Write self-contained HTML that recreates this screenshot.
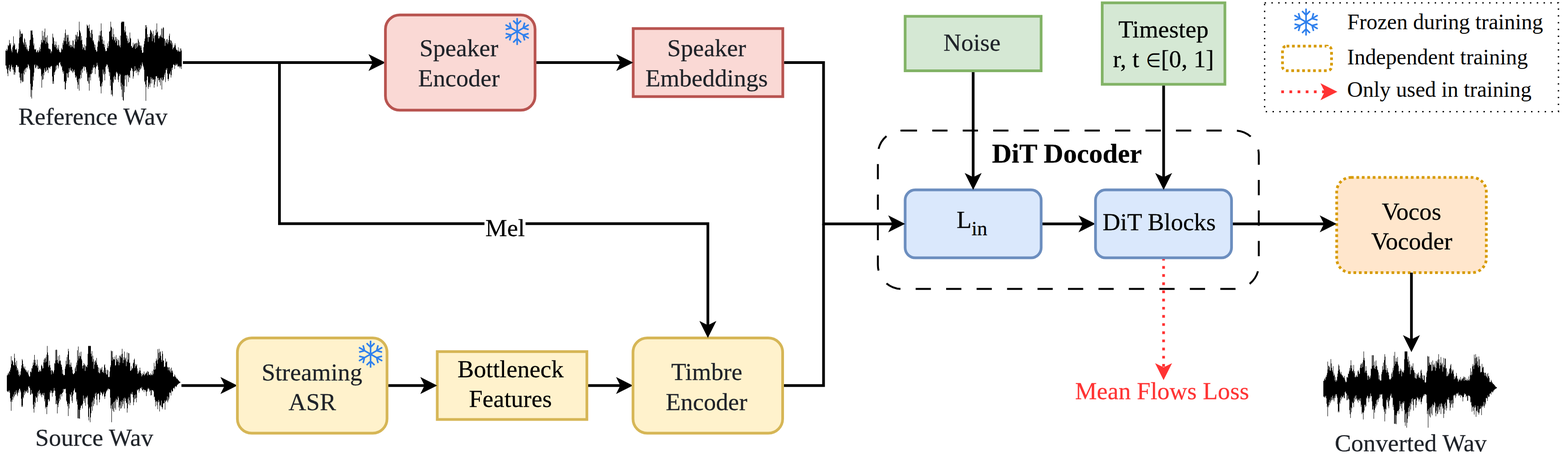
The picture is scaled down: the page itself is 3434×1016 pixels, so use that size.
<!DOCTYPE html>
<html lang="en">
<head>
<meta charset="utf-8">
<title>Voice conversion architecture</title>
<style>
html, body { margin: 0; padding: 0; background: #ffffff; }
body { width: 3434px; height: 1016px; overflow: hidden; }
svg { display: block; }
svg text { font-family: "Liberation Serif", "Times New Roman", Times, serif; white-space: pre; }
</style>
</head>
<body>
<svg width="3434" height="1016" viewBox="0 0 3434 1016">
<rect x="0" y="0" width="3434" height="1016" fill="#ffffff"/>
<path d="M12.0,110.5V110.5H13.0V111.2H14.0V107.1H15.0V111.6H16.0V108.7H17.0V98.5H18.0V101.3H19.0V99.3H20.0V87.4H21.0V95.1H22.0V98.3H23.0V94.4H24.0V107.1H25.0V110.7H26.0V114.6H27.0V103.6H28.0V99.8H29.0V79.4H30.0V99.7H31.0V94.7H32.0V97.4H33.0V108.3H34.0V108.3H35.0V109.1H36.0V106.1H37.0V114.9H38.0V117.1H39.0V112.8H40.0V107.6H41.0V94.9H42.0V82.8H43.0V64.4H44.0V68.4H45.0V80.8H46.0V73.7H47.0V74.1H48.0V72.5H49.0V74.8H50.0V91.6H51.0V94.3H52.0V97.7H53.0V83.6H54.0V86.2H55.0V103.1H56.0V92.4H57.0V97.7H58.0V107.9H59.0V103.7H60.0V108.3H61.0V111.8H62.0V111.7H63.0V107.3H64.0V100.1H65.0V88.1H66.0V86.7H67.0V66.9H68.0V66.5H69.0V68.2H70.0V66.2H71.0V76.0H72.0V82.4H73.0V99.4H74.0V95.3H75.0V107.2H76.0V108.8H77.0V108.3H78.0V106.7H79.0V114.4H80.0V114.3H81.0V111.1H82.0V109.5H83.0V115.0H84.0V113.5H85.0V109.8H86.0V103.6H87.0V112.4H88.0V107.3H89.0V97.3H90.0V87.5H91.0V93.1H92.0V67.4H93.0V93.3H94.0V78.5H95.0V87.8H96.0V70.1H97.0V89.1H98.0V62.4H99.0V82.2H100.0V95.7H101.0V81.4H102.0V91.8H103.0V77.4H104.0V94.3H105.0V95.4H106.0V106.8H107.0V105.7H108.0V108.2H109.0V106.9H110.0V108.4H111.0V116.5H112.0V111.7H113.0V113.1H114.0V95.8H115.0V73.7H116.0V81.2H117.0V83.4H118.0V89.9H119.0V98.4H120.0V102.7H121.0V97.6H122.0V91.1H123.0V106.2H124.0V99.1H125.0V109.3H126.0V104.4H127.0V107.6H128.0V98.6H129.0V110.0H130.0V113.9H131.0V113.4H132.0V115.4H133.0V113.7H134.0V104.8H135.0V107.6H136.0V108.7H137.0V93.8H138.0V98.1H139.0V88.7H140.0V82.4H141.0V90.4H142.0V72.4H143.0V64.4H144.0V90.1H145.0V76.8H146.0V96.5H147.0V76.5H148.0V82.6H149.0V76.2H150.0V91.7H151.0V100.7H152.0V89.3H153.0V98.3H154.0V103.5H155.0V98.7H156.0V98.8H157.0V103.3H158.0V101.7H159.0V88.6H160.0V89.2H161.0V103.9H162.0V106.2H163.0V97.4H164.0V86.3H165.0V76.2H166.0V91.2H167.0V76.2H168.0V79.4H169.0V69.9H170.0V86.7H171.0V80.3H172.0V79.3H173.0V47.5H174.0V66.1H175.0V69.1H176.0V72.5H177.0V88.8H178.0V78.7H179.0V87.2H180.0V97.1H181.0V107.9H182.0V103.2H183.0V104.8H184.0V97.4H185.0V109.1H186.0V110.2H187.0V99.9H188.0V101.4H189.0V82.4H190.0V53.7H191.0V56.7H192.0V55.7H193.0V62.5H194.0V60.9H195.0V53.7H196.0V67.9H197.0V80.8H198.0V72.0H199.0V83.0H200.0V66.3H201.0V64.9H202.0V74.5H203.0V89.5H204.0V87.9H205.0V92.7H206.0V96.8H207.0V104.1H208.0V98.2H209.0V109.1H210.0V109.8H211.0V113.4H212.0V112.2H213.0V102.4H214.0V92.6H215.0V89.1H216.0V77.4H217.0V91.0H218.0V77.4H219.0V68.6H220.0V78.3H221.0V51.2H222.0V67.0H223.0V86.7H224.0V80.2H225.0V96.1H226.0V96.7H227.0V88.8H228.0V103.5H229.0V97.7H230.0V108.0H231.0V112.0H232.0V111.9H233.0V111.2H234.0V104.7H235.0V94.9H236.0V105.6H237.0V100.9H238.0V90.6H239.0V69.3H240.0V69.1H241.0V66.9H242.0V47.5H243.0V58.4H244.0V60.5H245.0V80.3H246.0V86.5H247.0V62.4H248.0V81.5H249.0V75.1H250.0V89.3H251.0V86.7H252.0V80.7H253.0V93.2H254.0V81.2H255.0V89.4H256.0V84.9H257.0V99.8H258.0V98.7H259.0V87.1H260.0V88.6H261.0V101.3H262.0V98.6H263.0V103.7H264.0V78.1H265.0V50.1H266.0V47.5H267.0V47.5H268.0V47.5H269.0V47.5H270.0V47.5H271.0V47.5H272.0V66.6H273.0V71.1H274.0V57.5H275.0V68.9H276.0V76.8H277.0V84.2H278.0V78.6H279.0V89.5H280.0V94.6H281.0V84.4H282.0V93.5H283.0V92.1H284.0V71.2H285.0V82.9H286.0V85.0H287.0V101.0H288.0V100.6H289.0V104.6H290.0V104.3H291.0V93.6H292.0V102.0H293.0V98.2H294.0V95.9H295.0V94.7H296.0V107.0H297.0V95.2H298.0V93.6H299.0V105.0H300.0V94.3H301.0V101.7H302.0V84.9H303.0V88.5H304.0V98.9H305.0V92.3H306.0V99.9H307.0V99.8H308.0V104.1H309.0V99.9H310.0V109.9H311.0V115.6H312.0V115.7H313.0V114.8H314.0V103.2H315.0V96.5H316.0V89.9H317.0V84.4H318.0V55.0H319.0V62.7H320.0V55.0H321.0V59.2H322.0V81.7H323.0V74.9H324.0V91.5H325.0V81.0H326.0V81.3H327.0V81.3H328.0V74.0H329.0V64.9H330.0V66.8H331.0V69.0H332.0V72.0H333.0V90.2H334.0V75.0H335.0V67.4H336.0V84.2H337.0V79.1H338.0V92.9H339.0V77.0H340.0V77.2H341.0V64.7H342.0V72.6H343.0V51.2H344.0V71.3H345.0V69.0H346.0V78.3H347.0V84.4H348.0V83.5H349.0V79.6H350.0V79.3H351.0V76.2H352.0V79.9H353.0V62.4H354.0V82.1H355.0V62.4H356.0V82.8H357.0V59.5H358.0V61.2H359.0V85.2H360.0V84.6H361.0V100.4H362.0V89.1H363.0V93.2H364.0V86.1H365.0V93.9H366.0V85.2H367.0V96.4H368.0V87.9H369.0V92.6H370.0V78.2H371.0V73.7H372.0V87.4H373.0V95.1H374.0V88.2H375.0V89.8H376.0V97.7H377.0V93.5H378.0V107.9H379.0V104.4H380.0V103.9H381.0V98.8H382.0V102.4H383.0V94.9H384.0V99.1H385.0V106.2H386.0V109.5H387.0V109.1H388.0V110.4H389.0V113.1H390.0V103.6H391.0V110.7H392.0V112.8H393.0V113.5H394.0V106.1H395.0V112.7H396.0V106.3H397.0V110.4H398.0V151.0H397.0V145.3H396.0V145.4H395.0V149.7H394.0V146.9H393.0V144.5H392.0V144.8H391.0V146.0H390.0V145.8H389.0V139.8H388.0V142.7H387.0V142.2H386.0V139.6H385.0V143.7H384.0V142.8H383.0V151.0H382.0V142.2H381.0V141.2H380.0V141.4H379.0V147.4H378.0V153.0H377.0V148.7H376.0V164.4H375.0V169.7H374.0V156.2H373.0V163.4H372.0V160.6H371.0V162.4H370.0V172.8H369.0V177.2H368.0V173.0H367.0V161.3H366.0V149.3H365.0V153.4H364.0V152.5H363.0V179.7H362.0V159.5H361.0V163.5H360.0V168.5H359.0V173.2H358.0V176.2H357.0V176.3H356.0V169.6H355.0V195.9H354.0V174.2H353.0V170.0H352.0V187.3H351.0V171.5H350.0V180.0H349.0V175.1H348.0V176.0H347.0V170.6H346.0V170.8H345.0V189.6H344.0V166.5H343.0V167.5H342.0V167.0H341.0V178.8H340.0V173.5H339.0V185.2H338.0V192.1H337.0V174.2H336.0V173.7H335.0V174.4H334.0V170.9H333.0V182.8H332.0V173.1H331.0V168.8H330.0V182.5H329.0V190.8H328.0V185.3H327.0V180.7H326.0V189.9H325.0V194.6H324.0V167.5H323.0V167.0H322.0V175.7H321.0V190.6H320.0V220.8H319.0V184.9H318.0V177.2H317.0V179.7H316.0V152.4H315.0V147.2H314.0V143.9H313.0V140.6H312.0V136.8H311.0V145.3H310.0V149.7H309.0V142.2H308.0V150.8H307.0V153.2H306.0V158.2H305.0V148.8H304.0V156.5H303.0V164.7H302.0V157.5H301.0V154.0H300.0V150.6H299.0V159.8H298.0V154.5H297.0V154.6H296.0V145.0H295.0V156.0H294.0V156.4H293.0V167.2H292.0V172.2H291.0V155.5H290.0V150.9H289.0V149.2H288.0V148.6H287.0V153.7H286.0V155.6H285.0V170.5H284.0V169.0H283.0V164.8H282.0V179.7H281.0V166.7H280.0V163.5H279.0V164.1H278.0V189.6H277.0V165.2H276.0V164.1H275.0V173.9H274.0V165.5H273.0V202.1H272.0V188.0H271.0V220.8H270.0V219.1H269.0V185.2H268.0V212.5H267.0V196.3H266.0V181.2H265.0V189.6H264.0V163.8H263.0V161.5H262.0V166.6H261.0V167.2H260.0V179.7H259.0V174.6H258.0V159.5H257.0V161.8H256.0V157.0H255.0V159.1H254.0V168.2H253.0V174.7H252.0V174.0H251.0V165.8H250.0V168.5H249.0V182.1H248.0V179.3H247.0V210.8H246.0V207.0H245.0V197.5H244.0V207.1H243.0V174.5H242.0V187.8H241.0V158.5H240.0V166.6H239.0V157.2H238.0V147.0H237.0V150.7H236.0V141.2H235.0V143.3H234.0V140.7H233.0V144.9H232.0V146.4H231.0V161.8H230.0V175.9H229.0V156.8H228.0V163.8H227.0V161.3H226.0V152.2H225.0V179.5H224.0V188.5H223.0V182.8H222.0V204.6H221.0V190.2H220.0V188.3H219.0V177.2H218.0V167.6H217.0V170.6H216.0V152.9H215.0V146.0H214.0V142.5H213.0V137.4H212.0V144.9H211.0V146.4H210.0V150.0H209.0V162.2H208.0V147.1H207.0V147.7H206.0V142.1H205.0V149.7H204.0V147.4H203.0V159.7H202.0V152.9H201.0V162.5H200.0V161.3H199.0V175.9H198.0V162.4H197.0V169.5H196.0V198.4H195.0V183.0H194.0V169.5H193.0V178.4H192.0V177.2H191.0V157.5H190.0V161.3H189.0V152.6H188.0V147.1H187.0V146.9H186.0V145.0H185.0V154.8H184.0V147.1H183.0V145.3H182.0V150.0H181.0V159.0H180.0V151.4H179.0V170.9H178.0V154.4H177.0V164.1H176.0V173.5H175.0V171.1H174.0V198.4H173.0V172.7H172.0V185.5H171.0V194.6H170.0V180.0H169.0V175.9H168.0V166.5H167.0V169.4H166.0V169.9H165.0V164.5H164.0V158.1H163.0V152.5H162.0V155.0H161.0V157.6H160.0V159.7H159.0V150.9H158.0V157.0H157.0V154.4H156.0V155.0H155.0V148.2H154.0V152.6H153.0V157.8H152.0V149.2H151.0V158.7H150.0V169.9H149.0V169.6H148.0V161.0H147.0V160.1H146.0V177.5H145.0V181.9H144.0V195.5H143.0V195.9H142.0V178.0H141.0V179.4H140.0V155.8H139.0V161.2H138.0V157.2H137.0V153.6H136.0V144.7H135.0V147.2H134.0V143.9H133.0V141.2H132.0V135.8H131.0V137.6H130.0V137.6H129.0V145.3H128.0V149.7H127.0V142.1H126.0V143.7H125.0V142.3H124.0V152.2H123.0V145.1H122.0V154.3H121.0V156.9H120.0V164.0H119.0V158.6H118.0V183.4H117.0V177.9H116.0V183.4H115.0V167.6H114.0V145.2H113.0V144.1H112.0V145.9H111.0V145.9H110.0V150.4H109.0V149.1H108.0V147.1H107.0V147.9H106.0V159.7H105.0V152.4H104.0V152.7H103.0V155.1H102.0V147.5H101.0V156.8H100.0V157.7H99.0V153.4H98.0V149.4H97.0V164.7H96.0V159.5H95.0V173.3H94.0V174.9H93.0V162.7H92.0V192.1H91.0V166.7H90.0V152.3H89.0V151.0H88.0V148.6H87.0V150.0H86.0V151.0H85.0V150.9H84.0V145.1H83.0V151.0H82.0V143.8H81.0V141.9H80.0V146.0H79.0V149.7H78.0V148.4H77.0V140.9H76.0V142.7H75.0V159.0H74.0V176.3H73.0V167.5H72.0V189.6H71.0V197.2H70.0V215.8H69.0V196.3H68.0V212.1H67.0V183.4H66.0V152.8H65.0V149.4H64.0V144.9H63.0V142.5H62.0V140.4H61.0V146.9H60.0V150.6H59.0V147.5H58.0V148.4H57.0V157.8H56.0V149.8H55.0V152.2H54.0V163.0H53.0V155.0H52.0V178.4H51.0V160.5H50.0V180.1H49.0V178.6H48.0V175.7H47.0V160.9H46.0V182.2H45.0V175.5H44.0V169.7H43.0V159.1H42.0V157.9H41.0V146.0H40.0V145.8H39.0V147.2H38.0V143.2H37.0V142.3H36.0V142.4H35.0V147.2H34.0V158.7H33.0V163.5H32.0V156.9H31.0V163.5H30.0V153.1H29.0V146.6H28.0V152.2H27.0V147.5H26.0V141.8H25.0V144.9H24.0V150.9H23.0V157.2H22.0V155.6H21.0V142.1H20.0V152.7H19.0V148.5H18.0V166.8H17.0V160.8H16.0V152.4H15.0V150.6H14.0V143.6H13.0V143.5H12.0Z" fill="#000"/>
<path d="M15.0,822.0V822.0H16.0V821.5H17.0V818.2H18.0V816.1H19.0V820.2H20.0V812.6H21.0V813.9H22.0V809.2H23.0V804.9H24.0V779.9H25.0V797.2H26.0V789.0H27.0V789.4H28.0V792.2H29.0V799.2H30.0V800.2H31.0V774.4H32.0V783.9H33.0V793.5H34.0V799.0H35.0V802.6H36.0V789.9H37.0V810.9H38.0V805.8H39.0V809.6H40.0V821.1H41.0V813.6H42.0V824.0H43.0V819.8H44.0V821.6H45.0V813.2H46.0V806.4H47.0V799.8H48.0V786.2H49.0V789.2H50.0V797.1H51.0V802.4H52.0V805.5H53.0V807.8H54.0V802.4H55.0V808.9H56.0V811.7H57.0V809.8H58.0V814.8H59.0V813.4H60.0V816.4H61.0V811.1H62.0V819.9H63.0V823.1H64.0V825.3H65.0V824.0H66.0V813.9H67.0V813.5H68.0V815.5H69.0V806.1H70.0V807.2H71.0V801.5H72.0V793.9H73.0V799.0H74.0V788.1H75.0V776.9H76.0V794.6H77.0V788.1H78.0V800.8H79.0V801.0H80.0V797.7H81.0V787.4H82.0V805.3H83.0V800.8H84.0V813.9H85.0V814.2H86.0V811.3H87.0V809.2H88.0V813.1H89.0V813.1H90.0V800.8H91.0V798.6H92.0V802.2H93.0V807.3H94.0V806.0H95.0V793.5H96.0V787.4H97.0V784.2H98.0V794.1H99.0V784.9H100.0V781.5H101.0V791.9H102.0V776.6H103.0V757.5H104.0V771.8H105.0V777.4H106.0V803.8H107.0V800.2H108.0V789.9H109.0V799.5H110.0V805.0H111.0V811.4H112.0V819.8H113.0V809.7H114.0V810.9H115.0V813.0H116.0V818.1H117.0V814.8H118.0V810.7H119.0V794.9H120.0V796.4H121.0V766.2H122.0V789.3H123.0V765.6H124.0V766.2H125.0V787.9H126.0V794.4H127.0V779.7H128.0V796.2H129.0V791.1H130.0V777.4H131.0V788.9H132.0V790.4H133.0V797.4H134.0V799.0H135.0V803.4H136.0V818.5H137.0V809.8H138.0V819.4H139.0V821.9H140.0V820.9H141.0V821.3H142.0V807.4H143.0V802.6H144.0V789.9H145.0V798.3H146.0V782.1H147.0V797.3H148.0V776.5H149.0V763.7H150.0V769.0H151.0V798.2H152.0V787.4H153.0V804.1H154.0V798.6H155.0V794.1H156.0V802.9H157.0V803.9H158.0V809.8H159.0V817.4H160.0V818.9H161.0V819.5H162.0V817.4H163.0V816.3H164.0V806.4H165.0V803.1H166.0V813.0H167.0V793.7H168.0V799.4H169.0V767.1H170.0V789.4H171.0V758.7H172.0V779.7H173.0V785.0H174.0V772.0H175.0V779.5H176.0V780.6H177.0V769.9H178.0V785.9H179.0V789.2H180.0V801.2H181.0V806.9H182.0V800.0H183.0V794.9H184.0V799.8H185.0V796.9H186.0V812.2H187.0V799.9H188.0V802.6H189.0V802.6H190.0V804.5H191.0V799.1H192.0V774.7H193.0V757.5H194.0V757.5H195.0V757.5H196.0V757.5H197.0V757.5H198.0V757.5H199.0V774.6H200.0V780.6H201.0V768.7H202.0V792.3H203.0V778.7H204.0V786.4H205.0V807.4H206.0V791.9H207.0V798.6H208.0V788.6H209.0V790.6H210.0V794.1H211.0V783.7H212.0V798.9H213.0V798.5H214.0V803.6H215.0V815.3H216.0V804.9H217.0V816.3H218.0V817.5H219.0V807.1H220.0V810.6H221.0V806.1H222.0V809.6H223.0V803.6H224.0V814.6H225.0V815.0H226.0V810.9H227.0V816.7H228.0V799.8H229.0V797.4H230.0V805.0H231.0V816.9H232.0V809.8H233.0V819.8H234.0V820.3H235.0V809.4H236.0V811.1H237.0V825.2H238.0V826.3H239.0V824.9H240.0V813.6H241.0V803.9H242.0V800.0H243.0V767.4H244.0V769.2H245.0V789.4H246.0V768.7H247.0V782.2H248.0V786.4H249.0V787.1H250.0V786.9H251.0V780.7H252.0V800.6H253.0V799.4H254.0V777.4H255.0V786.1H256.0V792.1H257.0V788.3H258.0V784.0H259.0V792.0H260.0V799.8H261.0V778.7H262.0V794.2H263.0V778.7H264.0V781.6H265.0V775.7H266.0V783.7H267.0V763.7H268.0V774.8H269.0V795.0H270.0V788.3H271.0V782.3H272.0V769.8H273.0V788.4H274.0V785.3H275.0V782.7H276.0V801.8H277.0V791.4H278.0V771.8H279.0V792.8H280.0V787.3H281.0V772.8H282.0V773.7H283.0V795.0H284.0V793.8H285.0V811.9H286.0V811.6H287.0V802.1H288.0V810.3H289.0V807.2H290.0V805.7H291.0V796.0H292.0V793.9H293.0V788.0H294.0V785.2H295.0V805.8H296.0V796.9H297.0V801.9H298.0V799.7H299.0V797.4H300.0V806.7H301.0V818.6H302.0V812.3H303.0V817.4H304.0V814.6H305.0V811.1H306.0V804.9H307.0V811.4H308.0V816.7H309.0V818.6H310.0V824.2H311.0V821.5H312.0V817.0H313.0V820.4H314.0V819.1H315.0V813.6H316.0V822.3H317.0V820.3H318.0V817.3H319.0V819.0H320.0V816.5H321.0V815.4H322.0V812.3H323.0V822.1H324.0V813.6H325.0V814.5H326.0V820.0H327.0V821.2H328.0V820.5H329.0V817.2H330.0V822.2H331.0V819.4H332.0V820.9H333.0V812.3H334.0V821.5H335.0V818.5H336.0V809.2H337.0V794.4H338.0V810.0H339.0V801.9H340.0V808.5H341.0V790.6H342.0V785.3H343.0V788.7H344.0V796.2H345.0V764.5H346.0V787.6H347.0V772.4H348.0V763.7H349.0V783.9H350.0V771.1H351.0V769.2H352.0V779.3H353.0V788.1H354.0V792.3H355.0V768.7H356.0V774.8H357.0V789.3H358.0V789.7H359.0V803.7H360.0V802.6H361.0V802.7H362.0V784.9H363.0V794.1H364.0V791.5H365.0V791.7H366.0V803.3H367.0V804.7H368.0V810.7H369.0V804.5H370.0V804.1H371.0V811.1H372.0V813.7H373.0V807.2H374.0V816.3H375.0V804.9H376.0V812.4H377.0V811.3H378.0V816.1H379.0V824.3H380.0V824.9H381.0V824.3H382.0V819.8H383.0V822.6H384.0V826.1H385.0V825.5H386.0V828.9H387.0V828.6H388.0V829.5H389.0V831.0H390.0V832.4H391.0V833.3H392.0V835.4H393.0V835.3H394.0V836.1H395.0V838.0H394.0V838.5H393.0V839.2H392.0V840.3H391.0V840.2H390.0V842.3H389.0V842.3H388.0V844.4H387.0V846.7H386.0V847.7H385.0V845.1H384.0V846.2H383.0V852.2H382.0V848.9H381.0V849.6H380.0V850.5H379.0V856.4H378.0V857.5H377.0V856.8H376.0V853.5H375.0V866.1H374.0V860.5H373.0V859.4H372.0V859.6H371.0V873.0H370.0V869.3H369.0V876.7H368.0V881.1H367.0V868.0H366.0V878.2H365.0V875.5H364.0V877.5H363.0V880.0H362.0V897.1H361.0V876.8H360.0V882.8H359.0V882.8H358.0V883.9H357.0V891.9H356.0V895.9H355.0V891.4H354.0V877.0H353.0V890.3H352.0V886.6H351.0V888.0H350.0V900.9H349.0V879.6H348.0V875.7H347.0V881.0H346.0V895.9H345.0V878.7H344.0V887.5H343.0V878.2H342.0V880.1H341.0V889.7H340.0V875.8H339.0V868.2H338.0V869.7H337.0V857.6H336.0V854.9H335.0V855.3H334.0V854.0H333.0V854.2H332.0V865.0H331.0V866.0H330.0V855.1H329.0V854.6H328.0V857.9H327.0V851.2H326.0V851.7H325.0V849.2H324.0V852.3H323.0V857.1H322.0V857.5H321.0V867.2H320.0V857.5H319.0V854.5H318.0V854.0H317.0V853.4H316.0V858.5H315.0V852.4H314.0V852.7H313.0V855.0H312.0V854.7H311.0V847.6H310.0V851.8H309.0V849.8H308.0V849.1H307.0V851.2H306.0V855.5H305.0V859.7H304.0V852.0H303.0V853.0H302.0V855.4H301.0V853.4H300.0V871.1H299.0V880.9H298.0V863.7H297.0V871.9H296.0V874.0H295.0V865.0H294.0V880.5H293.0V887.2H292.0V870.3H291.0V864.0H290.0V858.2H289.0V862.5H288.0V864.1H287.0V861.7H286.0V881.9H285.0V887.2H284.0V876.7H283.0V869.5H282.0V885.0H281.0V872.8H280.0V894.0H279.0V903.4H278.0V881.4H277.0V883.1H276.0V878.1H275.0V872.9H274.0V870.6H273.0V894.6H272.0V878.5H271.0V872.3H270.0V885.1H269.0V889.8H268.0V876.5H267.0V880.1H266.0V893.6H265.0V895.1H264.0V878.6H263.0V887.6H262.0V899.6H261.0V891.9H260.0V871.2H259.0V868.1H258.0V875.6H257.0V880.3H256.0V875.2H255.0V872.8H254.0V897.3H253.0V876.8H252.0V893.5H251.0V879.7H250.0V902.1H249.0V880.9H248.0V899.7H247.0V895.4H246.0V884.2H245.0V924.6H244.0V887.7H243.0V894.6H242.0V870.7H241.0V852.7H240.0V852.3H239.0V851.2H238.0V850.9H237.0V854.7H236.0V851.5H235.0V854.4H234.0V856.1H233.0V858.5H232.0V861.7H231.0V867.7H230.0V873.4H229.0V868.4H228.0V858.0H227.0V861.6H226.0V863.7H225.0V867.2H224.0V862.7H223.0V859.6H222.0V860.3H221.0V857.4H220.0V865.1H219.0V874.8H218.0V880.9H217.0V861.4H216.0V861.8H215.0V862.8H214.0V862.7H213.0V887.2H212.0V874.9H211.0V859.8H210.0V867.3H209.0V861.9H208.0V873.1H207.0V884.7H206.0V870.2H205.0V889.3H204.0V877.3H203.0V899.6H202.0V880.8H201.0V890.2H200.0V904.8H199.0V913.9H198.0V924.6H197.0V891.3H196.0V894.6H195.0V920.5H194.0V912.8H193.0V885.5H192.0V866.6H191.0V870.0H190.0V871.9H189.0V868.7H188.0V888.4H187.0V872.0H186.0V882.1H185.0V872.9H184.0V877.7H183.0V866.1H182.0V883.7H181.0V894.6H180.0V886.3H179.0V888.7H178.0V888.0H177.0V893.1H176.0V897.5H175.0V917.1H174.0V915.9H173.0V896.8H172.0V916.4H171.0V915.8H170.0V885.9H169.0V874.5H168.0V879.1H167.0V859.6H166.0V858.1H165.0V859.7H164.0V850.2H163.0V853.6H162.0V855.7H161.0V863.1H160.0V866.0H159.0V882.2H158.0V877.5H157.0V859.0H156.0V869.0H155.0V864.9H154.0V862.9H153.0V884.7H152.0V894.4H151.0V882.9H150.0V910.9H149.0V889.6H148.0V884.7H147.0V879.8H146.0V877.2H145.0V861.3H144.0V850.9H143.0V852.5H142.0V851.7H141.0V851.8H140.0V857.7H139.0V851.8H138.0V860.2H137.0V859.9H136.0V868.1H135.0V863.2H134.0V862.3H133.0V874.7H132.0V864.4H131.0V878.4H130.0V872.5H129.0V882.2H128.0V891.5H127.0V885.9H126.0V905.2H125.0V876.8H124.0V884.4H123.0V885.1H122.0V866.9H121.0V855.8H120.0V855.2H119.0V849.6H118.0V859.7H117.0V856.0H116.0V860.5H115.0V868.5H114.0V860.1H113.0V856.0H112.0V854.4H111.0V861.1H110.0V858.5H109.0V877.2H108.0V879.5H107.0V874.0H106.0V874.9H105.0V887.2H104.0V891.1H103.0V906.7H102.0V891.5H101.0V890.8H100.0V894.6H99.0V874.3H98.0V878.8H97.0V860.2H96.0V866.6H95.0V865.1H94.0V860.8H93.0V863.7H92.0V869.7H91.0V863.7H90.0V866.2H89.0V860.2H88.0V862.6H87.0V853.7H86.0V862.4H85.0V855.9H84.0V867.5H83.0V859.6H82.0V879.7H81.0V870.2H80.0V871.1H79.0V867.8H78.0V882.2H77.0V890.9H76.0V879.8H75.0V903.4H74.0V894.9H73.0V886.0H72.0V863.0H71.0V860.5H70.0V862.5H69.0V853.9H68.0V863.8H67.0V864.7H66.0V850.2H65.0V849.1H64.0V845.4H63.0V846.8H62.0V859.7H61.0V860.4H60.0V853.4H59.0V856.4H58.0V858.5H57.0V857.0H56.0V861.6H55.0V854.9H54.0V865.1H53.0V858.5H52.0V872.2H51.0V869.2H50.0V890.9H49.0V888.0H48.0V890.9H47.0V872.9H46.0V859.0H45.0V855.3H44.0V851.4H43.0V851.3H42.0V859.7H41.0V854.7H40.0V859.4H39.0V867.2H38.0V863.6H37.0V859.8H36.0V854.7H35.0V863.9H34.0V863.8H33.0V857.9H32.0V867.2H31.0V870.6H30.0V863.6H29.0V875.1H28.0V868.5H27.0V879.7H26.0V876.1H25.0V899.6H24.0V879.4H23.0V872.0H22.0V860.0H21.0V854.9H20.0V858.2H19.0V855.4H18.0V858.5H17.0V857.6H16.0V856.1H15.0Z" fill="#000"/>
<path d="M2898.2,833.9V833.9H2899.2V833.4H2900.2V830.1H2901.2V828.0H2902.2V832.1H2903.2V824.5H2904.2V825.8H2905.2V821.1H2906.2V816.8H2907.2V791.8H2908.2V809.1H2909.2V800.9H2910.2V801.3H2911.2V804.1H2912.2V811.1H2913.2V812.1H2914.2V786.3H2915.2V795.8H2916.2V805.4H2917.2V810.9H2918.2V814.5H2919.2V801.8H2920.2V822.8H2921.2V817.7H2922.2V821.5H2923.2V833.0H2924.2V825.5H2925.2V835.9H2926.2V831.7H2927.2V833.5H2928.2V825.1H2929.2V818.3H2930.2V811.7H2931.2V798.1H2932.2V801.1H2933.2V809.0H2934.2V814.3H2935.2V817.4H2936.2V819.7H2937.2V814.3H2938.2V820.8H2939.2V823.6H2940.2V821.7H2941.2V826.7H2942.2V825.3H2943.2V828.3H2944.2V823.0H2945.2V831.8H2946.2V835.0H2947.2V837.2H2948.2V835.9H2949.2V825.8H2950.2V825.4H2951.2V827.4H2952.2V818.0H2953.2V819.1H2954.2V813.4H2955.2V805.8H2956.2V810.9H2957.2V800.0H2958.2V788.8H2959.2V806.5H2960.2V800.0H2961.2V812.7H2962.2V812.9H2963.2V809.6H2964.2V799.3H2965.2V817.2H2966.2V812.7H2967.2V825.8H2968.2V826.1H2969.2V823.2H2970.2V821.1H2971.2V825.0H2972.2V825.0H2973.2V812.7H2974.2V810.5H2975.2V814.1H2976.2V819.2H2977.2V817.9H2978.2V805.4H2979.2V799.3H2980.2V796.1H2981.2V806.0H2982.2V796.8H2983.2V793.4H2984.2V803.8H2985.2V788.5H2986.2V769.4H2987.2V783.7H2988.2V789.3H2989.2V815.7H2990.2V812.1H2991.2V801.8H2992.2V811.4H2993.2V816.9H2994.2V823.3H2995.2V831.7H2996.2V821.6H2997.2V822.8H2998.2V824.9H2999.2V830.0H3000.2V826.7H3001.2V822.6H3002.2V806.8H3003.2V808.3H3004.2V778.1H3005.2V801.2H3006.2V777.5H3007.2V778.1H3008.2V799.8H3009.2V806.3H3010.2V791.6H3011.2V808.1H3012.2V803.0H3013.2V789.3H3014.2V800.8H3015.2V802.3H3016.2V809.3H3017.2V810.9H3018.2V815.3H3019.2V830.4H3020.2V821.7H3021.2V831.3H3022.2V833.8H3023.2V832.8H3024.2V833.2H3025.2V819.3H3026.2V814.5H3027.2V801.8H3028.2V810.2H3029.2V794.0H3030.2V809.2H3031.2V788.4H3032.2V775.6H3033.2V780.9H3034.2V810.1H3035.2V799.3H3036.2V816.0H3037.2V810.5H3038.2V806.0H3039.2V814.8H3040.2V815.8H3041.2V821.7H3042.2V829.3H3043.2V830.8H3044.2V831.4H3045.2V829.3H3046.2V828.2H3047.2V818.3H3048.2V815.0H3049.2V824.9H3050.2V805.6H3051.2V811.3H3052.2V779.0H3053.2V801.3H3054.2V770.6H3055.2V791.6H3056.2V796.9H3057.2V783.9H3058.2V791.4H3059.2V792.5H3060.2V781.8H3061.2V797.8H3062.2V801.1H3063.2V813.1H3064.2V818.8H3065.2V811.9H3066.2V806.8H3067.2V811.7H3068.2V808.8H3069.2V824.1H3070.2V811.8H3071.2V814.5H3072.2V814.5H3073.2V816.4H3074.2V811.0H3075.2V786.6H3076.2V769.4H3077.2V769.4H3078.2V769.4H3079.2V769.4H3080.2V769.4H3081.2V769.4H3082.2V786.5H3083.2V792.5H3084.2V780.6H3085.2V804.2H3086.2V790.6H3087.2V798.3H3088.2V819.3H3089.2V803.8H3090.2V810.5H3091.2V800.5H3092.2V802.5H3093.2V806.0H3094.2V795.6H3095.2V810.8H3096.2V810.4H3097.2V815.5H3098.2V827.2H3099.2V816.8H3100.2V828.2H3101.2V829.4H3102.2V819.0H3103.2V822.5H3104.2V818.0H3105.2V821.5H3106.2V815.5H3107.2V826.5H3108.2V826.9H3109.2V822.8H3110.2V828.6H3111.2V811.7H3112.2V809.3H3113.2V816.9H3114.2V828.8H3115.2V821.7H3116.2V831.7H3117.2V832.2H3118.2V821.3H3119.2V823.0H3120.2V837.1H3121.2V838.2H3122.2V836.8H3123.2V825.5H3124.2V815.8H3125.2V811.9H3126.2V779.3H3127.2V781.1H3128.2V801.3H3129.2V780.6H3130.2V794.1H3131.2V798.3H3132.2V799.0H3133.2V798.8H3134.2V792.6H3135.2V812.5H3136.2V811.3H3137.2V789.3H3138.2V798.0H3139.2V804.0H3140.2V800.2H3141.2V795.9H3142.2V803.9H3143.2V811.7H3144.2V790.6H3145.2V806.1H3146.2V790.6H3147.2V793.5H3148.2V787.6H3149.2V795.6H3150.2V775.6H3151.2V786.7H3152.2V806.9H3153.2V800.2H3154.2V794.2H3155.2V781.7H3156.2V800.3H3157.2V797.2H3158.2V794.6H3159.2V813.7H3160.2V803.3H3161.2V783.7H3162.2V804.7H3163.2V799.2H3164.2V784.7H3165.2V785.6H3166.2V806.9H3167.2V805.7H3168.2V823.8H3169.2V823.5H3170.2V814.0H3171.2V822.2H3172.2V819.1H3173.2V817.6H3174.2V807.9H3175.2V805.8H3176.2V799.9H3177.2V797.1H3178.2V817.7H3179.2V808.8H3180.2V813.8H3181.2V811.6H3182.2V809.3H3183.2V818.6H3184.2V830.5H3185.2V824.2H3186.2V829.3H3187.2V826.5H3188.2V823.0H3189.2V816.8H3190.2V823.3H3191.2V828.6H3192.2V830.5H3193.2V836.1H3194.2V833.4H3195.2V828.9H3196.2V832.3H3197.2V831.0H3198.2V825.5H3199.2V834.2H3200.2V832.2H3201.2V829.2H3202.2V830.9H3203.2V828.4H3204.2V827.3H3205.2V824.2H3206.2V834.0H3207.2V825.5H3208.2V826.4H3209.2V831.9H3210.2V833.1H3211.2V832.4H3212.2V829.1H3213.2V834.1H3214.2V831.3H3215.2V832.8H3216.2V824.2H3217.2V833.4H3218.2V830.4H3219.2V821.1H3220.2V806.3H3221.2V821.9H3222.2V813.8H3223.2V820.4H3224.2V802.5H3225.2V797.2H3226.2V800.6H3227.2V808.1H3228.2V776.4H3229.2V799.5H3230.2V784.3H3231.2V775.6H3232.2V795.8H3233.2V783.0H3234.2V781.1H3235.2V791.2H3236.2V800.0H3237.2V804.2H3238.2V780.6H3239.2V786.7H3240.2V801.2H3241.2V801.6H3242.2V815.6H3243.2V814.5H3244.2V814.6H3245.2V796.8H3246.2V806.0H3247.2V803.4H3248.2V803.6H3249.2V815.2H3250.2V816.6H3251.2V822.6H3252.2V816.4H3253.2V816.0H3254.2V823.0H3255.2V825.6H3256.2V819.1H3257.2V828.2H3258.2V816.8H3259.2V824.3H3260.2V823.2H3261.2V828.0H3262.2V836.2H3263.2V836.8H3264.2V836.2H3265.2V831.7H3266.2V834.5H3267.2V838.0H3268.2V837.4H3269.2V840.8H3270.2V840.5H3271.2V841.4H3272.2V842.9H3273.2V844.3H3274.2V845.2H3275.2V847.3H3276.2V847.2H3277.2V848.0H3278.2V849.9H3277.2V850.4H3276.2V851.1H3275.2V852.2H3274.2V852.1H3273.2V854.2H3272.2V854.2H3271.2V856.3H3270.2V858.6H3269.2V859.6H3268.2V857.0H3267.2V858.1H3266.2V864.1H3265.2V860.8H3264.2V861.5H3263.2V862.4H3262.2V868.3H3261.2V869.4H3260.2V868.7H3259.2V865.4H3258.2V878.0H3257.2V872.4H3256.2V871.3H3255.2V871.5H3254.2V884.9H3253.2V881.2H3252.2V888.6H3251.2V893.0H3250.2V879.9H3249.2V890.1H3248.2V887.4H3247.2V889.4H3246.2V891.9H3245.2V909.0H3244.2V888.7H3243.2V894.7H3242.2V894.7H3241.2V895.8H3240.2V903.8H3239.2V907.8H3238.2V903.3H3237.2V888.9H3236.2V902.2H3235.2V898.5H3234.2V899.9H3233.2V912.8H3232.2V891.5H3231.2V887.6H3230.2V892.9H3229.2V907.8H3228.2V890.6H3227.2V899.4H3226.2V890.1H3225.2V892.0H3224.2V901.6H3223.2V887.7H3222.2V880.1H3221.2V881.6H3220.2V869.5H3219.2V866.8H3218.2V867.2H3217.2V865.9H3216.2V866.1H3215.2V876.9H3214.2V877.9H3213.2V867.0H3212.2V866.5H3211.2V869.8H3210.2V863.1H3209.2V863.6H3208.2V861.1H3207.2V864.2H3206.2V869.0H3205.2V869.4H3204.2V879.1H3203.2V869.4H3202.2V866.4H3201.2V865.9H3200.2V865.3H3199.2V870.4H3198.2V864.3H3197.2V864.6H3196.2V866.9H3195.2V866.6H3194.2V859.5H3193.2V863.7H3192.2V861.7H3191.2V861.0H3190.2V863.1H3189.2V867.4H3188.2V871.6H3187.2V863.9H3186.2V864.9H3185.2V867.3H3184.2V865.3H3183.2V883.0H3182.2V892.8H3181.2V875.6H3180.2V883.8H3179.2V885.9H3178.2V876.9H3177.2V892.4H3176.2V899.1H3175.2V882.2H3174.2V875.9H3173.2V870.1H3172.2V874.4H3171.2V876.0H3170.2V873.6H3169.2V893.8H3168.2V899.1H3167.2V888.6H3166.2V881.4H3165.2V896.9H3164.2V884.7H3163.2V905.9H3162.2V915.3H3161.2V893.3H3160.2V895.0H3159.2V890.0H3158.2V884.8H3157.2V882.5H3156.2V906.5H3155.2V890.4H3154.2V884.2H3153.2V897.0H3152.2V901.7H3151.2V888.4H3150.2V892.0H3149.2V905.5H3148.2V907.0H3147.2V890.5H3146.2V899.5H3145.2V911.5H3144.2V903.8H3143.2V883.1H3142.2V880.0H3141.2V887.5H3140.2V892.2H3139.2V887.1H3138.2V884.7H3137.2V909.2H3136.2V888.7H3135.2V905.4H3134.2V891.6H3133.2V914.0H3132.2V892.8H3131.2V911.6H3130.2V907.3H3129.2V896.1H3128.2V936.5H3127.2V899.6H3126.2V906.5H3125.2V882.6H3124.2V864.6H3123.2V864.2H3122.2V863.1H3121.2V862.8H3120.2V866.6H3119.2V863.4H3118.2V866.3H3117.2V868.0H3116.2V870.4H3115.2V873.6H3114.2V879.6H3113.2V885.3H3112.2V880.3H3111.2V869.9H3110.2V873.5H3109.2V875.6H3108.2V879.1H3107.2V874.6H3106.2V871.5H3105.2V872.2H3104.2V869.3H3103.2V877.0H3102.2V886.7H3101.2V892.8H3100.2V873.3H3099.2V873.7H3098.2V874.7H3097.2V874.6H3096.2V899.1H3095.2V886.8H3094.2V871.7H3093.2V879.2H3092.2V873.8H3091.2V885.0H3090.2V896.6H3089.2V882.1H3088.2V901.2H3087.2V889.2H3086.2V911.5H3085.2V892.7H3084.2V902.1H3083.2V916.7H3082.2V925.8H3081.2V936.5H3080.2V903.2H3079.2V906.5H3078.2V932.4H3077.2V924.7H3076.2V897.4H3075.2V878.5H3074.2V881.9H3073.2V883.8H3072.2V880.6H3071.2V900.3H3070.2V883.9H3069.2V894.0H3068.2V884.8H3067.2V889.6H3066.2V878.0H3065.2V895.6H3064.2V906.5H3063.2V898.2H3062.2V900.6H3061.2V899.9H3060.2V905.0H3059.2V909.4H3058.2V929.0H3057.2V927.8H3056.2V908.7H3055.2V928.3H3054.2V927.7H3053.2V897.8H3052.2V886.4H3051.2V891.0H3050.2V871.5H3049.2V870.0H3048.2V871.6H3047.2V862.1H3046.2V865.5H3045.2V867.6H3044.2V875.0H3043.2V877.9H3042.2V894.1H3041.2V889.4H3040.2V870.9H3039.2V880.9H3038.2V876.8H3037.2V874.8H3036.2V896.6H3035.2V906.3H3034.2V894.8H3033.2V922.8H3032.2V901.5H3031.2V896.6H3030.2V891.7H3029.2V889.1H3028.2V873.2H3027.2V862.8H3026.2V864.4H3025.2V863.6H3024.2V863.7H3023.2V869.6H3022.2V863.7H3021.2V872.1H3020.2V871.8H3019.2V880.0H3018.2V875.1H3017.2V874.2H3016.2V886.6H3015.2V876.3H3014.2V890.3H3013.2V884.4H3012.2V894.1H3011.2V903.4H3010.2V897.8H3009.2V917.1H3008.2V888.7H3007.2V896.3H3006.2V897.0H3005.2V878.8H3004.2V867.7H3003.2V867.1H3002.2V861.5H3001.2V871.6H3000.2V867.9H2999.2V872.4H2998.2V880.4H2997.2V872.0H2996.2V867.9H2995.2V866.3H2994.2V873.0H2993.2V870.4H2992.2V889.1H2991.2V891.4H2990.2V885.9H2989.2V886.8H2988.2V899.1H2987.2V903.0H2986.2V918.6H2985.2V903.4H2984.2V902.7H2983.2V906.5H2982.2V886.2H2981.2V890.7H2980.2V872.1H2979.2V878.5H2978.2V877.0H2977.2V872.7H2976.2V875.6H2975.2V881.6H2974.2V875.6H2973.2V878.1H2972.2V872.1H2971.2V874.5H2970.2V865.6H2969.2V874.3H2968.2V867.8H2967.2V879.4H2966.2V871.5H2965.2V891.6H2964.2V882.1H2963.2V883.0H2962.2V879.7H2961.2V894.1H2960.2V902.8H2959.2V891.7H2958.2V915.3H2957.2V906.8H2956.2V897.9H2955.2V874.9H2954.2V872.4H2953.2V874.4H2952.2V865.8H2951.2V875.7H2950.2V876.6H2949.2V862.1H2948.2V861.0H2947.2V857.3H2946.2V858.7H2945.2V871.6H2944.2V872.3H2943.2V865.3H2942.2V868.3H2941.2V870.4H2940.2V868.9H2939.2V873.5H2938.2V866.8H2937.2V877.0H2936.2V870.4H2935.2V884.1H2934.2V881.1H2933.2V902.8H2932.2V899.9H2931.2V902.8H2930.2V884.8H2929.2V870.9H2928.2V867.2H2927.2V863.3H2926.2V863.2H2925.2V871.6H2924.2V866.6H2923.2V871.3H2922.2V879.1H2921.2V875.5H2920.2V871.7H2919.2V866.6H2918.2V875.8H2917.2V875.7H2916.2V869.8H2915.2V879.1H2914.2V882.5H2913.2V875.5H2912.2V887.0H2911.2V880.4H2910.2V891.6H2909.2V888.0H2908.2V911.5H2907.2V891.3H2906.2V883.9H2905.2V871.9H2904.2V866.8H2903.2V870.1H2902.2V867.3H2901.2V870.4H2900.2V869.5H2899.2V868.0H2898.2Z" fill="#000"/>
<rect x="1922.60" y="285.90" width="834.20" height="346.80" rx="52.40" ry="52.40" fill="none" stroke="#000" stroke-width="4.17" stroke-dasharray="33.36 33.36"/>
<polygon points="837.44,137.00 813.61,148.92 819.56,137.00 813.61,125.08" fill="#000" stroke="#000" stroke-width="5.96" stroke-miterlimit="10" stroke-linejoin="miter"/>
<path d="M400.50,137.00 L819.56,137.00" fill="none" stroke="#000" stroke-width="5.96" stroke-miterlimit="10"/>
<polygon points="2392.54,490.20 2368.71,502.12 2374.66,490.20 2368.71,478.28" fill="#000" stroke="#000" stroke-width="5.96" stroke-miterlimit="10" stroke-linejoin="miter"/>
<path d="M2280.20,490.20 L2374.66,490.20" fill="none" stroke="#000" stroke-width="5.96" stroke-miterlimit="10"/>
<polygon points="513.24,844.20 489.41,856.12 495.36,844.20 489.41,832.28" fill="#000" stroke="#000" stroke-width="5.96" stroke-miterlimit="10" stroke-linejoin="miter"/>
<path d="M397.40,844.20 L495.36,844.20" fill="none" stroke="#000" stroke-width="5.96" stroke-miterlimit="10"/>
<polygon points="1379.64,844.20 1355.81,856.12 1361.76,844.20 1355.81,832.28" fill="#000" stroke="#000" stroke-width="5.96" stroke-miterlimit="10" stroke-linejoin="miter"/>
<path d="M1285.30,844.20 L1361.76,844.20" fill="none" stroke="#000" stroke-width="5.96" stroke-miterlimit="10"/>
<polygon points="2548.30,825.64 2536.38,801.81 2548.30,807.76 2560.22,801.81" fill="#ff3333" stroke="#ff3333" stroke-width="5.96" stroke-miterlimit="10" stroke-linejoin="miter"/>
<path d="M2548.30,564.60 L2548.30,807.76" fill="none" stroke="#ff3333" stroke-width="5.96" stroke-miterlimit="10" stroke-dasharray="5.96 11.92"/>
<rect x="844.10" y="32.70" width="327.70" height="208.50" rx="31.30" ry="31.30" fill="#fad9d5" stroke="#b85450" stroke-width="5.96"/>
<rect x="1386.70" y="62.50" width="327.70" height="149.00" fill="#fad9d5" stroke="#b85450" stroke-width="5.96"/>
<rect x="1982.30" y="35.70" width="297.80" height="119.30" fill="#d5e8d4" stroke="#82b366" stroke-width="5.96"/>
<rect x="2413.90" y="6.20" width="268.70" height="178.40" fill="#d5e8d4" stroke="#82b366" stroke-width="5.96"/>
<rect x="1982.30" y="415.80" width="297.90" height="148.80" rx="22.30" ry="22.30" fill="#dae8fc" stroke="#6c8ebf" stroke-width="5.96"/>
<rect x="2399.20" y="415.80" width="297.90" height="148.80" rx="22.30" ry="22.30" fill="#dae8fc" stroke="#6c8ebf" stroke-width="5.96"/>
<rect x="2927.40" y="388.50" width="327.70" height="208.50" rx="31.30" ry="31.30" fill="#ffe6cc" stroke="#d79b00" stroke-width="5.96" stroke-dasharray="5.96 5.96"/>
<rect x="519.90" y="740.00" width="327.70" height="208.60" rx="31.30" ry="31.30" fill="#fff2cc" stroke="#d6b656" stroke-width="5.96"/>
<rect x="957.60" y="769.90" width="327.70" height="148.60" fill="#fff2cc" stroke="#d6b656" stroke-width="5.96"/>
<rect x="1386.30" y="740.00" width="327.70" height="208.60" rx="31.30" ry="31.30" fill="#fff2cc" stroke="#d6b656" stroke-width="5.96"/>
<polygon points="1550.30,733.34 1538.38,709.51 1550.30,715.46 1562.22,709.51" fill="#000" stroke="#000" stroke-width="5.96" stroke-miterlimit="10" stroke-linejoin="miter"/>
<path d="M612.00,137.00 L612.00,489.80 L1550.30,489.80 L1550.30,715.46" fill="none" stroke="#000" stroke-width="5.96" stroke-miterlimit="10"/>
<polygon points="1380.04,137.00 1356.21,148.92 1362.16,137.00 1356.21,125.08" fill="#000" stroke="#000" stroke-width="5.96" stroke-miterlimit="10" stroke-linejoin="miter"/>
<path d="M1174.78,137.00 L1362.16,137.00" fill="none" stroke="#000" stroke-width="5.96" stroke-miterlimit="10"/>
<polygon points="1975.64,490.20 1951.81,502.12 1957.76,490.20 1951.81,478.28" fill="#000" stroke="#000" stroke-width="5.96" stroke-miterlimit="10" stroke-linejoin="miter"/>
<path d="M1717.38,137.00 L1803.60,137.00 L1803.60,490.20 L1957.76,490.20" fill="none" stroke="#000" stroke-width="5.96" stroke-miterlimit="10"/>
<path d="M1716.98,844.20 L1803.60,844.20 L1803.60,490.20" fill="none" stroke="#000" stroke-width="5.96" stroke-miterlimit="10"/>
<polygon points="2131.30,409.14 2119.38,385.31 2131.30,391.26 2143.22,385.31" fill="#000" stroke="#000" stroke-width="5.96" stroke-miterlimit="10" stroke-linejoin="miter"/>
<path d="M2131.30,157.98 L2131.30,391.26" fill="none" stroke="#000" stroke-width="5.96" stroke-miterlimit="10"/>
<polygon points="2548.40,409.14 2536.48,385.31 2548.40,391.26 2560.32,385.31" fill="#000" stroke="#000" stroke-width="5.96" stroke-miterlimit="10" stroke-linejoin="miter"/>
<path d="M2548.40,187.58 L2548.40,391.26" fill="none" stroke="#000" stroke-width="5.96" stroke-miterlimit="10"/>
<polygon points="2920.74,490.20 2896.91,502.12 2902.86,490.20 2896.91,478.28" fill="#000" stroke="#000" stroke-width="5.96" stroke-miterlimit="10" stroke-linejoin="miter"/>
<path d="M2700.08,490.20 L2902.86,490.20" fill="none" stroke="#000" stroke-width="5.96" stroke-miterlimit="10"/>
<polygon points="3091.10,764.34 3079.18,740.51 3091.10,746.46 3103.02,740.51" fill="#000" stroke="#000" stroke-width="5.96" stroke-miterlimit="10" stroke-linejoin="miter"/>
<path d="M3091.10,597.00 L3091.10,746.46" fill="none" stroke="#000" stroke-width="5.96" stroke-miterlimit="10"/>
<polygon points="950.94,844.20 927.11,856.12 933.06,844.20 927.11,832.28" fill="#000" stroke="#000" stroke-width="5.96" stroke-miterlimit="10" stroke-linejoin="miter"/>
<path d="M850.58,844.20 L933.06,844.20" fill="none" stroke="#000" stroke-width="5.96" stroke-miterlimit="10"/>
<rect x="1061" y="470" width="90" height="56" fill="#fff"/>
<rect x="2769.60" y="6.30" width="643.50" height="238.20" fill="none" stroke="#000" stroke-width="2.98" stroke-dasharray="2.98 11.92"/>
<path d="M2860.30,48.30L2860.30,18.80M2860.30,33.00L2869.00,24.30M2860.30,33.00L2851.60,24.30M2860.30,48.30L2885.85,33.55M2873.55,40.65L2885.43,43.83M2873.55,40.65L2876.73,28.77M2860.30,48.30L2885.85,63.05M2873.55,55.95L2876.73,67.83M2873.55,55.95L2885.43,52.77M2860.30,48.30L2860.30,77.80M2860.30,63.60L2851.60,72.30M2860.30,63.60L2869.00,72.30M2860.30,48.30L2834.75,63.05M2847.05,55.95L2835.17,52.77M2847.05,55.95L2843.87,67.83M2860.30,48.30L2834.75,33.55M2847.05,40.65L2843.87,28.77M2847.05,40.65L2835.17,43.83" fill="none" stroke="#2f80ed" stroke-width="3.5" stroke-linecap="butt"/>
<rect x="2808.70" y="100.90" width="107.40" height="53.90" rx="9.00" ry="9.00" fill="none" stroke="#d79b00" stroke-width="5.96" stroke-dasharray="5.96 5.96"/>
<polygon points="2922.34,200.90 2898.51,212.82 2904.46,200.90 2898.51,188.98" fill="#ff3333" stroke="#ff3333" stroke-width="5.96" stroke-miterlimit="10" stroke-linejoin="miter"/>
<path d="M2806.00,200.90 L2904.46,200.90" fill="none" stroke="#ff3333" stroke-width="5.96" stroke-miterlimit="10" stroke-dasharray="5.96 11.92"/>
<text x="2950.50" y="64.00" font-size="47.66" fill="#000" text-anchor="start">Frozen during training</text>
<text x="2950.30" y="140.90" font-size="47.66" fill="#000" text-anchor="start">Independent training</text>
<text x="2950.30" y="212.30" font-size="47.66" fill="#000" text-anchor="start">Only used in training</text>
<path d="M1132.60,69.00L1132.60,39.50M1132.60,53.70L1141.30,45.00M1132.60,53.70L1123.90,45.00M1132.60,69.00L1158.15,54.25M1145.85,61.35L1157.73,64.53M1145.85,61.35L1149.03,49.47M1132.60,69.00L1158.15,83.75M1145.85,76.65L1149.03,88.53M1145.85,76.65L1157.73,73.47M1132.60,69.00L1132.60,98.50M1132.60,84.30L1123.90,93.00M1132.60,84.30L1141.30,93.00M1132.60,69.00L1107.05,83.75M1119.35,76.65L1107.47,73.47M1119.35,76.65L1116.17,88.53M1132.60,69.00L1107.05,54.25M1119.35,61.35L1116.17,49.47M1119.35,61.35L1107.47,64.53" fill="none" stroke="#2f80ed" stroke-width="3.5" stroke-linecap="butt"/>
<path d="M811.60,775.50L811.60,746.00M811.60,760.20L820.30,751.50M811.60,760.20L802.90,751.50M811.60,775.50L837.15,760.75M824.85,767.85L836.73,771.03M824.85,767.85L828.03,755.97M811.60,775.50L837.15,790.25M824.85,783.15L828.03,795.03M824.85,783.15L836.73,779.97M811.60,775.50L811.60,805.00M811.60,790.80L802.90,799.50M811.60,790.80L820.30,799.50M811.60,775.50L786.05,790.25M798.35,783.15L786.47,779.97M798.35,783.15L795.17,795.03M811.60,775.50L786.05,760.75M798.35,767.85L795.17,755.97M798.35,767.85L786.47,771.03" fill="none" stroke="#2f80ed" stroke-width="3.5" stroke-linecap="butt"/>
<text x="203.50" y="272.50" font-size="53.62" fill="#1f2329" stroke="#1f2329" stroke-width="0.3" text-anchor="middle">Reference Wav</text>
<text x="206.40" y="975.80" font-size="53.62" fill="#1f2329" stroke="#1f2329" stroke-width="0.3" text-anchor="middle">Source Wav</text>
<text x="3089.60" y="987.70" font-size="53.62" fill="#1f2329" stroke="#1f2329" stroke-width="0.3" text-anchor="middle">Converted Wav</text>
<text x="1005.05" y="123.20" font-size="53.62" fill="#1f2329" stroke="#1f2329" stroke-width="0.3" text-anchor="middle">Speaker</text>
<text x="1004.95" y="188.60" font-size="53.62" fill="#1f2329" stroke="#1f2329" stroke-width="0.3" text-anchor="middle">Encoder</text>
<text x="1547.60" y="122.90" font-size="53.62" fill="#1f2329" stroke="#1f2329" stroke-width="0.3" text-anchor="middle">Speaker</text>
<text x="1547.60" y="188.50" font-size="53.62" fill="#1f2329" stroke="#1f2329" stroke-width="0.3" text-anchor="middle">Embeddings</text>
<text x="1106.30" y="516.90" font-size="53.62" fill="#000" stroke="#000" stroke-width="0.3" text-anchor="middle">Mel</text>
<text x="683.10" y="832.70" font-size="53.62" fill="#1f2329" stroke="#1f2329" stroke-width="0.3" text-anchor="middle">Streaming</text>
<text x="684.00" y="897.60" font-size="53.62" fill="#1f2329" stroke="#1f2329" stroke-width="0.3" text-anchor="middle">ASR</text>
<text x="1118.10" y="825.90" font-size="53.62" fill="#000" stroke="#000" stroke-width="0.3" text-anchor="middle">Bottleneck</text>
<text x="1117.80" y="891.40" font-size="53.62" fill="#000" stroke="#000" stroke-width="0.3" text-anchor="middle">Features</text>
<text x="1547.95" y="832.20" font-size="53.62" fill="#1f2329" stroke="#1f2329" stroke-width="0.3" text-anchor="middle">Timbre</text>
<text x="1547.20" y="898.00" font-size="53.62" fill="#1f2329" stroke="#1f2329" stroke-width="0.3" text-anchor="middle">Encoder</text>
<text x="2128.75" y="110.50" font-size="53.62" fill="#1f2329" stroke="#1f2329" stroke-width="0.3" text-anchor="middle">Noise</text>
<text x="2547.95" y="81.90" font-size="53.62" fill="#000" stroke="#000" stroke-width="0.3" text-anchor="middle">Timestep</text>
<text x="2437.60" y="147.00" font-size="53.62" fill="#000" stroke="#000" stroke-width="0.3" text-anchor="start">r, t</text>
<text transform="translate(2509.4,147.0) scale(0.88,1)" font-size="42.6" fill="#000" style="font-family:'DejaVu Sans',sans-serif">∈</text>
<text x="2658.60" y="147.00" font-size="53.62" fill="#000" stroke="#000" stroke-width="0.3" text-anchor="end">[0, 1]</text>
<text x="2336.70" y="355.60" font-size="59.58" fill="#000" stroke="#000" stroke-width="0.3" text-anchor="middle" font-weight="bold">DiT Docoder</text>
<text x="2095.0" y="499.4" font-size="53.62" fill="#000" stroke="#000" stroke-width="0.3">L<tspan dy="15.2" font-size="44.51">in</tspan></text>
<text x="2538.65" y="504.10" font-size="53.62" fill="#000" stroke="#000" stroke-width="0.3" text-anchor="middle">DiT Blocks</text>
<text x="3091.25" y="480.60" font-size="53.62" fill="#000" stroke="#000" stroke-width="0.3" text-anchor="middle">Vocos</text>
<text x="3091.75" y="546.30" font-size="53.62" fill="#000" stroke="#000" stroke-width="0.3" text-anchor="middle">Vocoder</text>
<text x="2545.00" y="874.30" font-size="53.62" fill="#ff3333" stroke="#ff3333" stroke-width="0.3" text-anchor="middle">Mean Flows Loss</text>
</svg>
</body>
</html>
